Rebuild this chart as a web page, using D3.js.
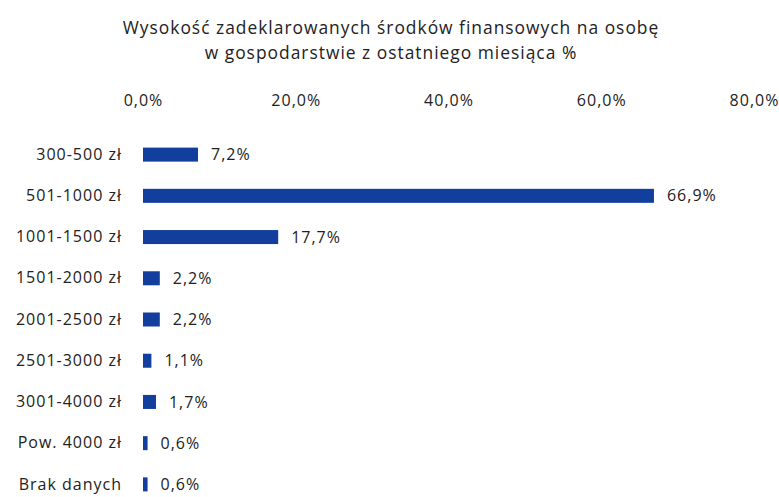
<!DOCTYPE html>
<html><head><meta charset="utf-8">
<script src="https://cdn.jsdelivr.net/npm/d3@7"></script>
<style>body{margin:0;background:#fff}svg{display:block}text{font-family:"Open Sans",sans-serif;fill:#222}</style>
</head><body>
<svg id="c" width="779" height="497"></svg>
<script>
const categories = ["300-500 zł","501-1000 zł","1001-1500 zł","1501-2000 zł","2001-2500 zł","2501-3000 zł","3001-4000 zł","Pow. 4000 zł","Brak danych"];
const values = [7.2,66.9,17.7,2.2,2.2,1.1,1.7,0.6,0.6];
const tickValues = [0,20,40,60,80];
const titleLines = ["Wysokość zadeklarowanych środków finansowych na osobę","w gospodarstwie z ostatniego miesiąca %"];

const svg = d3.select("#c");
const x = d3.scaleLinear().domain([0,80]).range([143,754]);
const y = d3.scaleBand().domain(categories).range([134,505]).paddingInner(0.66).paddingOuter(0.33);
const fmt = v => d3.format(".1f")(v).replace(".", ",") + "%";
const FF = "'Open Sans',sans-serif";

svg.selectAll(".title").data(titleLines).join("text")
  .attr("x",391).attr("y",(d,i)=>34+i*25).attr("text-anchor","middle")
  .attr("font-size",17.4).attr("letter-spacing",1).text(d=>d);

const ax = d3.axisTop(x).tickValues(tickValues).tickFormat(fmt).tickSize(0).tickPadding(0);
const g = svg.append("g").attr("transform","translate(0,106)").call(ax);
g.select(".domain").remove();
g.selectAll("text").attr("font-size",16).attr("letter-spacing",1).style("font-family",FF).attr("fill","#222");

const yax = d3.axisLeft(y).tickSize(0).tickPadding(0);
const gy = svg.append("g").attr("transform","translate(122,0)").call(yax);
gy.select(".domain").remove();
gy.selectAll("text").attr("font-size",16).attr("letter-spacing",1).style("font-family",FF).attr("fill","#222");

svg.selectAll(".bar").data(values).join("rect")
  .attr("x",x(0)).attr("y",(d,i)=>y(categories[i]))
  .attr("width",d=>x(d)-x(0)).attr("height",y.bandwidth())
  .attr("fill","#123f9e");

svg.selectAll(".lbl").data(values).join("text")
  .attr("x",d=>x(d)+13).attr("y",(d,i)=>y(categories[i])+y.bandwidth()/2)
  .attr("dy","0.35em").attr("font-size",16).attr("letter-spacing",1).text(fmt);
</script>
</body></html>
